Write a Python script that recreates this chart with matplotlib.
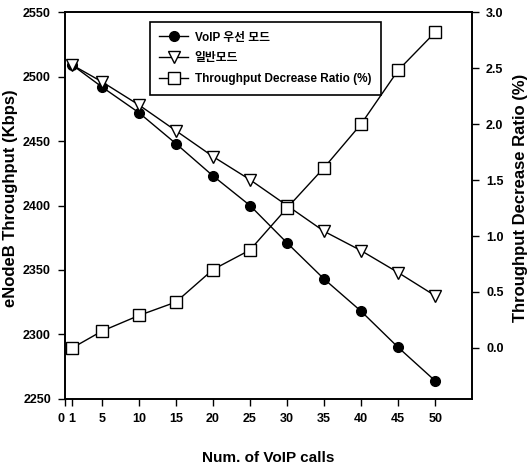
import matplotlib
matplotlib.use("Agg")
from matplotlib import pyplot as plt

calls = [1, 5, 10, 15, 20, 25, 30, 35, 40, 45, 50]
voip_mode = [2509, 2492, 2472, 2448, 2423, 2400, 2371, 2343, 2318, 2290, 2264]
normal_mode = [2509, 2496, 2478, 2458, 2438, 2420, 2400, 2380, 2365, 2348, 2330]
decrease_ratio = [0.0, 0.15, 0.29, 0.41, 0.70, 0.875, 1.25, 1.61, 2.0, 2.48, 2.82]

x_ticks = [0, 1, 5, 10, 15, 20, 25, 30, 35, 40, 45, 50]
left_ticks = [2250, 2300, 2350, 2400, 2450, 2500, 2550]
right_ticks = [0.0, 0.5, 1.0, 1.5, 2.0, 2.5, 3.0]

plt.rcParams["font.family"] = ["Liberation Sans", "Noto Sans CJK KR", "DejaVu Sans"]
plt.rcParams["font.weight"] = "bold"

fig = plt.figure(figsize=(5.27, 4.66), dpi=100)
ax = fig.add_axes([0.123, 0.144, 0.773, 0.830])
ax2 = ax.twinx()

l1, = ax.plot(calls, voip_mode, c="black", lw=1, marker="o", ms=7,
              mfc="black", mec="black", label="VoIP 우선 모드")
l2, = ax.plot(calls, normal_mode, c="black", lw=1, marker="v", ms=8,
              mfc="white", mec="black", label="일반모드")
l3, = ax2.plot(calls, decrease_ratio, c="black", lw=1, marker="s", ms=8,
               mfc="white", mec="black", label="Throughput Decrease Ratio (%)")

ax.set_xlim(0, 55)
ax.set_ylim(2250, 2550)
ax2.set_ylim(-0.455, 3.0)
ax.set_xticks(x_ticks)
ax.set_xticklabels([str(t) for t in x_ticks])
ax.set_yticks(left_ticks)
ax2.set_yticks(right_ticks)
ax2.set_yticklabels(["%.1f" % t for t in right_ticks])

for a in (ax, ax2):
    a.tick_params(axis="both", labelsize=9, direction="out", length=5, width=1,
                  pad=5, colors="black")
    for s in a.spines.values():
        s.set_linewidth(1.2)
    for lab in a.get_xticklabels() + a.get_yticklabels():
        lab.set_fontweight("bold")

# "0" and "1" sit side by side like "01"
ax.xaxis.get_major_ticks()[0].label1.set_horizontalalignment("right")

ax.set_xlabel("Num. of VoIP calls", fontsize=11, fontweight="bold")
ax.xaxis.set_label_coords(0.5, -0.135)
ax.set_ylabel("eNodeB Throughput (Kbps)", fontsize=12, fontweight="bold")
ax.yaxis.set_label_coords(-0.115, 0.52)
ax2.set_ylabel("Throughput Decrease Ratio (%)", fontsize=12, fontweight="bold",
               rotation=90)
ax2.yaxis.set_label_coords(1.1, 0.52)

leg = ax.legend(handles=[l1, l2, l3], loc="upper left", bbox_to_anchor=(0.209, 0.974),
                borderaxespad=0, fancybox=False, edgecolor="black", framealpha=1,
                prop={"weight": "bold", "size": 8.5},
                handlelength=2.4, borderpad=0.8, labelspacing=0.75, handletextpad=0.6)
leg.get_frame().set_linewidth(1.2)

fig.savefig("out.png", dpi=100)
